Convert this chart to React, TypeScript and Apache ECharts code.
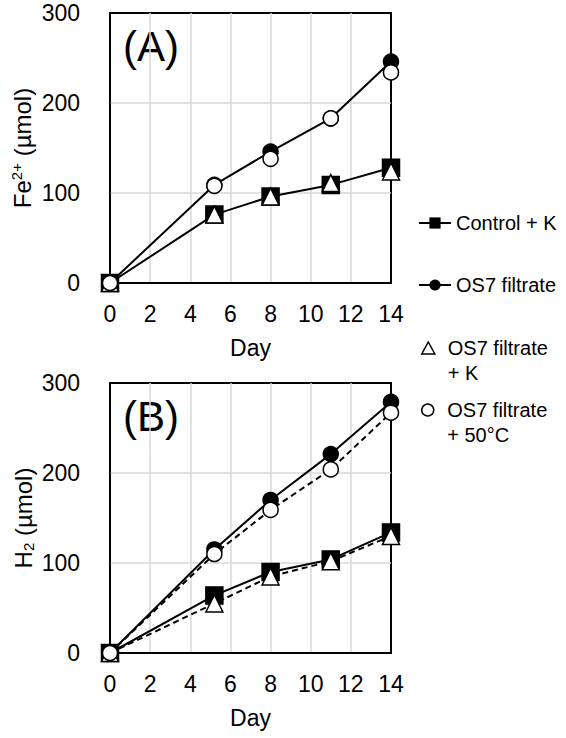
import React, { useEffect, useRef } from "react";
import * as echarts from "echarts";

const days = [0, 5.2, 8, 11, 14];
const nameControlK = "Control + K";
const nameOS7 = "OS7 filtrate";
const nameOS7K = "OS7 filtrate\n+ K";
const nameOS7Heat = "OS7 filtrate\n+ 50°C";

const feControlK = [0, 76, 96, 109, 128];
const feOS7 = [0, 109, 146, 183, 246];
const feOS7K = [0, 76, 96, 111, 124];
const feOS7Heat = [0, 108, 138, 183, 234];

const h2ControlK = [0, 64, 90, 104, 134];
const h2OS7 = [0, 115, 170, 221, 279];
const h2OS7K = [0, 55, 85, 102, 130];
const h2OS7Heat = [0, 110, 159, 204, 267];

const panelLabels = ["(A)", "(B)"];
const xName = "Day";

const FONT = "'Liberation Sans', Arial, sans-serif";

const pair = (ys: number[]) => days.map((d, i) => [d, ys[i]]);

function mk(
  name: string,
  idx: number,
  ys: number[],
  symbol: string,
  fill: string,
  line: "solid" | "dashed" | "none",
  size: number
) {
  return {
    type: "line",
    name,
    xAxisIndex: idx,
    yAxisIndex: idx,
    data: pair(ys),
    symbol,
    symbolSize: size,
    showAllSymbol: true,
    clip: false,
    itemStyle: { color: fill, borderColor: "#000", borderWidth: 1.5 },
    lineStyle:
      line === "none"
        ? { width: 0, opacity: 0, color: "#000" }
        : { color: "#000", width: 2, type: line === "dashed" ? [6, 4] : "solid" },
    emphasis: { disabled: true },
  };
}

function xAxis(idx: number) {
  return {
    type: "value",
    gridIndex: idx,
    min: 0,
    max: 14,
    interval: 2,
    name: xName,
    nameLocation: "middle",
    nameGap: 53,
    nameTextStyle: { fontFamily: FONT, fontSize: 23, color: "#000" },
    axisLine: { show: true, lineStyle: { color: "#000", width: 2 } },
    axisTick: { show: false },
    axisLabel: { margin: 19, fontFamily: FONT, fontSize: 23, color: "#000" },
    splitLine: {
      show: true,
      showMinLine: false,
      showMaxLine: false,
      lineStyle: { color: "#d9d9d9", width: 1.5 },
    },
  };
}

function yAxis(idx: number, name: string, rich: any) {
  return {
    type: "value",
    gridIndex: idx,
    min: 0,
    max: 300,
    interval: 100,
    name,
    nameLocation: "middle",
    nameGap: 74,
    nameTextStyle: { fontFamily: FONT, fontSize: 24, color: "#000", rich },
    axisLine: { show: true, lineStyle: { color: "#000", width: 1.5 } },
    axisTick: { show: false },
    axisLabel: { margin: 30, fontFamily: FONT, fontSize: 23, color: "#000" },
    splitLine: {
      show: true,
      showMinLine: false,
      showMaxLine: false,
      lineStyle: { color: "#d9d9d9", width: 1.5 },
    },
  };
}

const baseRich = { fontFamily: FONT, fontSize: 24, color: "#000" };

function legend(name: string, top: number, left: number, itemWidth: number, itemHeight: number, icon?: string, multi?: boolean) {
  return {
    show: true,
    orient: "vertical",
    left,
    top,
    padding: 0,
    itemWidth,
    itemHeight,
    symbolKeepAspect: true,
    selectedMode: false,
    data: [icon ? { name, icon } : { name }],
    itemStyle: icon ? { borderWidth: 1.5, borderColor: "#000", color: "#fff" } : undefined,
    formatter: multi ? (n: string) => "\n" + n : undefined,
    textStyle: { fontFamily: FONT, fontSize: 20, color: "#000", lineHeight: 25 },
  };
}

export default function App() {
  const ref = useRef<HTMLDivElement>(null);
  useEffect(() => {
    if (!ref.current) return;
    const chart = echarts.init(ref.current, undefined, { renderer: "svg" });
    chart.setOption({
      animation: false,
      backgroundColor: "#fff",
      grid: [
        { left: 110, top: 13, width: 281, height: 270, show: true, borderColor: "#000", borderWidth: 2, backgroundColor: "transparent" },
        { left: 110, top: 383, width: 281, height: 270, show: true, borderColor: "#000", borderWidth: 2, backgroundColor: "transparent" },
      ],
      xAxis: [xAxis(0), xAxis(1)],
      yAxis: [
        yAxis(0, "{a|Fe}{sup|2+}{a| (µmol)}", {
          a: baseRich,
          sup: { fontFamily: FONT, fontSize: 15, color: "#000", padding: [0, 0, 12, 0] },
        }),
        yAxis(1, "{a|H}{sub|2}{a| (µmol)}", {
          a: baseRich,
          sub: { fontFamily: FONT, fontSize: 15, color: "#000", padding: [10, 0, 0, 0] },
        }),
      ],
      legend: [
        legend(nameControlK, 210.5, 418, 32, 14),
        legend(nameOS7, 272.5, 418, 32, 14),
        legend(nameOS7K, 310.5, 421, 29, 12, "path://M6,0L12,11L0,11Z", true),
        legend(nameOS7Heat, 372.5, 421, 29, 12, "circle", true),
      ],
      graphic: [
        {
          type: "text",
          x: 123,
          y: 46,
          style: { text: panelLabels[0], fontFamily: FONT, fontSize: 42, fill: "#000", verticalAlign: "middle" },
        },
        {
          type: "text",
          x: 123,
          y: 416,
          style: { text: panelLabels[1], fontFamily: FONT, fontSize: 42, fill: "#000", verticalAlign: "middle" },
        },
      ],
      series: [
        mk(nameControlK, 0, feControlK, "rect", "#000", "solid", 17),
        mk(nameOS7, 0, feOS7, "circle", "#000", "solid", 15),
        mk(nameOS7K, 0, feOS7K, "triangle", "#fff", "none", 17),
        mk(nameOS7Heat, 0, feOS7Heat, "circle", "#fff", "none", 15),
        mk(nameControlK, 1, h2ControlK, "rect", "#000", "solid", 17),
        mk(nameOS7, 1, h2OS7, "circle", "#000", "solid", 15),
        mk(nameOS7K, 1, h2OS7K, "triangle", "#fff", "dashed", 17),
        mk(nameOS7Heat, 1, h2OS7Heat, "circle", "#fff", "dashed", 15),
      ],
    });
    return () => chart.dispose();
  }, []);
  return (
    <div
      ref={ref}
      style={{ position: "fixed", left: 0, top: 0, width: 566, height: 738, background: "#fff" }}
    />
  );
}
